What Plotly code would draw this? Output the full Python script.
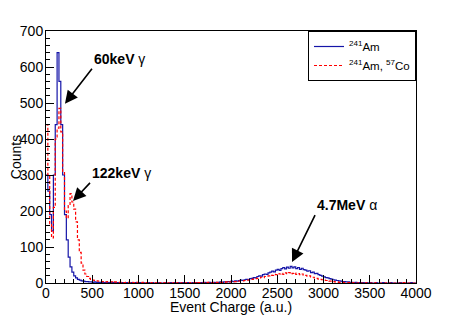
import plotly.graph_objects as go

# Histogram binning (bin width 20 a.u., 0..4000)
bin_width = 20
bin_edges = [i * bin_width for i in range(201)]

# 241Am spectrum (counts per bin)
am241 = [
    300, 255, 190, 145, 300, 440, 640, 560, 440, 300,
    190, 120, 72, 45, 30, 20, 14, 10, 8, 6,
    5, 4, 4, 3, 3, 2, 3, 2, 2, 2,
    2, 1, 2, 1, 1, 2, 1, 1, 1, 1,
    1, 1, 0, 1, 1, 0, 1, 0, 1, 0,
    1, 0, 1, 0, 0, 1, 0, 1, 0, 0,
    0, 1, 0, 0, 1, 0, 0, 1, 0, 1,
    0, 1, 0, 1, 1, 0, 1, 1, 0, 1,
    1, 1, 0, 1, 1, 2, 1, 1, 2, 1,
    2, 1, 2, 2, 3, 2, 3, 3, 4, 3,
    5, 4, 6, 5, 7, 8, 7, 9, 10, 9,
    12, 13, 15, 14, 18, 20, 19, 23, 25, 24,
    28, 30, 33, 31, 36, 38, 35, 40, 43, 39,
    44, 41, 46, 42, 45, 40, 43, 38, 41, 37,
    36, 33, 34, 29, 30, 26, 27, 23, 21, 19,
    17, 15, 14, 12, 11, 9, 8, 7, 6, 5,
    4, 4, 3, 3, 2, 2, 1, 2, 1, 1,
    1, 1, 0, 1, 0, 1, 0, 0, 1, 0,
    0, 0, 1, 0, 0, 0, 1, 0, 0, 0,
    0, 1, 0, 0, 0, 0, 0, 1, 0, 0,
]

# 241Am + 57Co spectrum (counts per bin)
am241_co57 = [
    440, 300, 165, 125, 210, 400, 430, 485, 420, 310,
    200, 180, 215, 248, 225, 205, 170, 120, 85, 55,
    36, 25, 18, 13, 10, 8, 7, 6, 5, 5,
    4, 4, 3, 4, 3, 3, 2, 3, 2, 2,
    2, 2, 1, 2, 2, 1, 2, 1, 1, 2,
    1, 1, 2, 1, 1, 1, 0, 1, 1, 0,
    1, 0, 1, 1, 0, 1, 0, 1, 0, 1,
    0, 1, 1, 0, 1, 0, 1, 1, 0, 1,
    1, 0, 1, 1, 0, 1, 1, 2, 1, 1,
    1, 1, 2, 1, 2, 2, 2, 3, 2, 3,
    3, 4, 4, 5, 5, 6, 6, 7, 8, 8,
    9, 10, 11, 12, 13, 14, 16, 15, 18, 19,
    20, 22, 21, 24, 23, 26, 25, 27, 24, 28,
    26, 29, 25, 27, 28, 24, 26, 23, 25, 22,
    21, 19, 20, 17, 16, 14, 13, 11, 10, 9,
    8, 7, 6, 5, 5, 4, 3, 3, 2, 2,
    2, 1, 1, 1, 1, 0, 1, 0, 0, 1,
    0, 0, 1, 0, 0, 0, 0, 1, 0, 0,
    0, 0, 0, 0, 1, 0, 0, 0, 0, 0,
    0, 0, 0, 1, 0, 0, 0, 0, 0, 0,
]

# Peak labels: text and arrow tip position (data units)
peak_labels = ["<b>60keV</b> γ", "<b>122keV</b> γ", "<b>4.7MeV</b> α"]
peak_x = [205, 292, 2660]
peak_y = [498, 228, 58]

FONT = "Liberation Sans, Arial, Helvetica, sans-serif"

def step_y(vals):
    return list(vals) + [vals[-1]]

fig = go.Figure()
fig.add_trace(go.Scatter(
    x=bin_edges, y=step_y(am241), mode="lines", line_shape="hv",
    line=dict(color="#1515a8", width=1.2),
    name="<sup>241</sup>Am",
))
fig.add_trace(go.Scatter(
    x=bin_edges, y=step_y(am241_co57), mode="lines", line_shape="hv",
    line=dict(color="#ff0000", width=1.2, dash="3px,2px"),
    name="<sup>241</sup>Am, <sup>57</sup>Co",
))

# arrow tail offsets (px) from the tip; the label sits just above-right of the tail
arrow_ax = [27, 17, 23]
arrow_ay = [-35, -18, -47]
for i, t in enumerate(peak_labels):
    fig.add_annotation(
        x=peak_x[i], y=peak_y[i], xref="x", yref="y",
        ax=arrow_ax[i], ay=arrow_ay[i], axref="pixel", ayref="pixel",
        text=t, showarrow=True, arrowhead=2, arrowsize=1.6, arrowwidth=1.6,
        arrowcolor="black", xanchor="left", yanchor="bottom",
        font=dict(family=FONT, size=14, color="black"),
    )

axis_common = dict(
    showgrid=False, zeroline=False, showline=True, linecolor="black",
    linewidth=1, mirror=True, ticks="inside", tickcolor="black",
    ticklen=8, tickwidth=1, automargin=False,
    tickfont=dict(family=FONT, size=14, color="black"),
)

# the page adds an 8px body margin, so the figure is 8px smaller and the
# left/top margins are reduced by 8px to keep the plot area in place
fig.update_layout(
    width=455, height=307,
    margin=dict(l=38, r=47, t=23, b=32),
    paper_bgcolor="white", plot_bgcolor="white",
    font=dict(family=FONT, color="black"),
    showlegend=True,
    legend=dict(
        x=1, y=1, xanchor="right", yanchor="top",
        bordercolor="black", borderwidth=1, bgcolor="white",
        font=dict(family=FONT, size=11.5, color="black"),
        itemwidth=30, tracegroupgap=0,
    ),
    xaxis=dict(
        range=[0, 4000], dtick=500, tick0=0, ticklabelstandoff=-3,
        minor=dict(dtick=100, ticklen=4, ticks="inside", tickcolor="black"),
        title=dict(text="Event Charge (a.u.)", standoff=5,
                   font=dict(family=FONT, size=14, color="black")),
        **axis_common,
    ),
    yaxis=dict(
        range=[0, 700], dtick=100, tick0=0, ticklabelstandoff=-1,
        minor=dict(dtick=20, ticklen=4, ticks="inside", tickcolor="black"),
        title=dict(text="Counts", standoff=0,
                   font=dict(family=FONT, size=14, color="black")),
        **axis_common,
    ),
)

fig.write_html("out.html")
